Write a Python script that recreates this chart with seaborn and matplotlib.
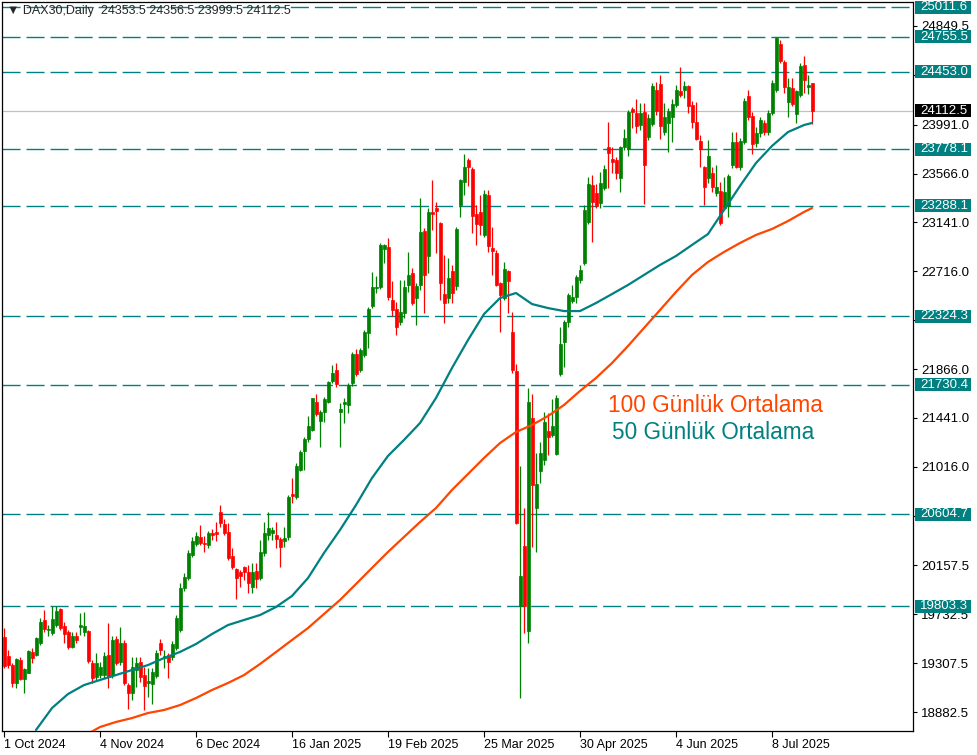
import pandas as pd
import seaborn as sns
from matplotlib import pyplot as plt
from matplotlib import transforms
from matplotlib.patches import Rectangle

# DAX30 daily candles, 1 Oct 2024 onwards (one value per trading day)
opens = [
    19535, 19370, 19292, 19135, 19335, 19170, 19222, 19405, 19379, 19483,
    19683, 19596, 19570, 19640, 19779, 19631, 19579, 19448, 19544, 19622,
    19579, 19587, 19309, 19187, 19204, 19204, 19379, 19204, 19518, 19318,
    19483, 19118, 19048, 19248, 19318, 19204, 19135, 19126, 19196, 19483,
    19352, 19379, 19361, 19439, 19596, 19961, 20048, 20249, 20344, 20405,
    20353, 20336, 20440, 20449, 20623, 20518, 20449, 20240, 20127, 20101,
    20144, 20101, 19970, 20109, 20048, 20266, 20423, 20440, 20423, 20388,
    20370, 20405, 20779, 20753, 20988, 21153, 21258, 21336, 21580, 21414,
    21493, 21580, 21762, 21858, 21493, 21562, 21554, 21745, 21997, 21858,
    21989, 22180, 22415, 22571, 22580, 22911, 22928, 22467, 22389, 22276,
    22354, 22598, 22702, 22484, 22598, 23067, 22850, 23233, 23267, 23137,
    22519, 22484, 22719, 22589, 23294, 23494, 23685, 23607, 23215, 23233,
    23033, 23381, 22919, 22876, 22615, 22484, 22719, 22189, 21849, 19805,
    20327, 19587, 21440, 20657, 20979, 21075, 21327, 21293, 21127, 21823,
    22102, 22276, 22458, 22493, 22641, 22789, 23146, 23468, 23398, 23311,
    23441, 23798, 23694, 23685, 23528, 23798, 23781, 24129, 24094, 23990,
    24103, 23885, 23998, 24294, 24346, 23929, 24007, 24059, 24164, 24285,
    24294, 24329, 24164, 24016, 23850, 23624, 23528, 23572, 23398, 23415,
    23267, 23285, 23642, 23842, 23624, 23842, 24242, 24068, 23833, 23920,
    24007, 23929, 24094, 24294, 24694, 24538, 24190, 24311, 24085, 24251,
    24512, 24320, 24353.5,
]
highs = [
    19613, 19422, 19309, 19352, 19361, 19265, 19422, 19439, 19535, 19700,
    19770, 19640, 19805, 19805, 19787, 19666, 19596, 19579, 19579, 19744,
    19753, 19596, 19335, 19396, 19318, 19405, 19657, 19544, 19544, 19622,
    19509, 19135, 19361, 19361, 19361, 19274, 19265, 19265, 19422, 19518,
    19422, 19396, 19500, 19727, 20005, 20092, 20292, 20405, 20449, 20510,
    20414, 20457, 20475, 20536, 20684, 20562, 20527, 20309, 20135, 20118,
    20153, 20162, 20179, 20179, 20379, 20536, 20623, 20492, 20536, 20405,
    20492, 20771, 20918, 21049, 21162, 21275, 21458, 21614, 21649, 21510,
    21623, 21762, 21902, 21919, 21571, 21614, 21745, 22015, 22041, 22049,
    22206, 22406, 22711, 22676, 22963, 22954, 23006, 22632, 22450, 22641,
    22641, 22885, 22745, 22615, 23354, 23093, 23267, 23511, 23320, 23146,
    22859, 22832, 22772, 23102, 23520, 23737, 23702, 23624, 23294, 23381,
    23424, 23424, 23102, 22902, 22624, 22798, 22728, 22363, 21910, 21023,
    20657, 21701, 21649, 21136, 21232, 21493, 21484, 21606, 21641, 22232,
    22293, 22528, 22598, 22685, 22772, 23294, 23537, 23555, 23476, 23581,
    23642, 24016, 23798, 23711, 23807, 23955, 24120, 24146, 24216, 24181,
    24181, 24085, 24355, 24364, 24425, 24181, 24137, 24216, 24338, 24494,
    24372, 24338, 24198, 24190, 23903, 23633, 23859, 23624, 23642, 23494,
    23537, 23563, 23929, 23929, 23876, 24224, 24294, 24103, 23972, 24059,
    24033, 24120, 24381, 24755, 24729, 24555, 24398, 24398, 24294, 24529,
    24590, 24425, 24356.5,
]
lows = [
    19265, 19265, 19100, 19091, 19161, 19048, 19222, 19309, 19370, 19466,
    19579, 19544, 19552, 19622, 19596, 19483, 19431, 19439, 19483, 19552,
    19544, 19309, 19135, 19161, 19178, 19178, 19091, 19178, 19292, 19292,
    19118, 18909, 18987, 19100, 19144, 18900, 19013, 18952, 19178, 19379,
    19265, 19178, 19335, 19422, 19579, 19935, 20031, 20231, 20327, 20336,
    20275, 20309, 20379, 20370, 20492, 20423, 20205, 20127, 19866, 19970,
    20031, 19918, 19918, 19961, 20031, 20240, 20379, 20379, 20309, 20144,
    20318, 20379, 20701, 20736, 20979, 20988, 21232, 21327, 21458, 21188,
    21406, 21571, 21745, 21710, 21188, 21397, 21484, 21719, 21806, 21841,
    21971, 22049, 22397, 22528, 22563, 22789, 22467, 22328, 22163, 22250,
    22310, 22537, 22424, 22250, 22554, 22354, 22702, 23076, 22876, 22467,
    22267, 22441, 22441, 22554, 23189, 23381, 23459, 23050, 22946, 23033,
    23015, 22885, 22685, 22589, 22189, 22467, 22354, 21832, 20518, 19004,
    19570, 19483, 20318, 20275, 20875, 21032, 21119, 21275, 21119, 21806,
    21884, 22232, 22441, 22441, 22615, 22772, 23128, 22972, 23267, 23267,
    23424, 23441, 23572, 23520, 23407, 23772, 23720, 23963, 23920, 23946,
    23302, 23859, 23981, 24077, 23868, 23903, 23755, 23842, 24146, 24233,
    24224, 24094, 23963, 23859, 23624, 23294, 23485, 23407, 23372, 23120,
    23250, 23189, 23615, 23615, 23598, 23824, 24033, 23737, 23798, 23885,
    23903, 23903, 24077, 24277, 24529, 24268, 24059, 24155, 24007, 24233,
    24268, 24259, 23999.5,
]
closes = [
    19283, 19292, 19135, 19344, 19170, 19257, 19413, 19352, 19526, 19666,
    19605, 19605, 19692, 19761, 19613, 19561, 19448, 19544, 19509, 19640,
    19631, 19326, 19178, 19309, 19274, 19370, 19187, 19509, 19309, 19483,
    19135, 19048, 19274, 19309, 19187, 19109, 19152, 19231, 19396, 19422,
    19370, 19318, 19474, 19700, 19961, 20057, 20266, 20370, 20414, 20353,
    20344, 20440, 20423, 20431, 20527, 20440, 20222, 20144, 20048, 20066,
    20101, 20005, 20101, 20040, 20275, 20440, 20483, 20466, 20388, 20318,
    20396, 20753, 20762, 21023, 21145, 21258, 21371, 21614, 21475, 21493,
    21606, 21754, 21832, 21736, 21519, 21580, 21728, 21997, 21823, 22032,
    22189, 22389, 22580, 22580, 22946, 22946, 22493, 22380, 22232, 22363,
    22580, 22685, 22441, 22589, 23059, 22685, 23233, 23215, 23241, 22615,
    22441, 22658, 22528, 23085, 23511, 23624, 23624, 23198, 23128, 23120,
    23389, 22937, 22893, 22598, 22511, 22737, 22632, 21858, 20527, 20066,
    19805, 21580, 20858, 20866, 21136, 21406, 21275, 21371, 21614, 22084,
    22276, 22511, 22493, 22667, 22728, 23250, 23476, 23320, 23285, 23485,
    23607, 23746, 23668, 23572, 23798, 23876, 24103, 24103, 23981, 24094,
    23642, 24050, 24329, 24111, 23981, 24059, 24111, 24172, 24294, 24251,
    24329, 24155, 24016, 23868, 23781, 23450, 23720, 23450, 23450, 23137,
    23407, 23546, 23842, 23624, 23850, 24198, 24059, 23824, 23920, 24033,
    23929, 24094, 24355, 24746, 24546, 24320, 24320, 24172, 24285, 24503,
    24381, 24338, 24112.5,
]

date_labels = ['1 Oct 2024', '4 Nov 2024', '6 Dec 2024', '16 Jan 2025', '19 Feb 2025',
               '25 Mar 2025', '30 Apr 2025', '4 Jun 2025', '8 Jul 2025']
label_step = 24  # bars between date labels

# moving averages read every 4th bar
ma50_bars = list(range(8, 201, 4)) + [202]
ma50 = [18726, 18917, 19039, 19117, 19161, 19204, 19248, 19291, 19352, 19405,
        19474, 19561, 19639, 19683, 19726, 19796, 19892, 20048, 20266, 20466,
        20683, 20918, 21110, 21249, 21396, 21614, 21875, 22118, 22344, 22483,
        22527, 22431, 22396, 22370, 22370, 22440, 22518, 22597, 22684, 22771,
        22849, 22945, 23040, 23249, 23458, 23658, 23806, 23927, 23988, 24006]
ma100_bars = list(range(20, 201, 4)) + [202]
ma100 = [18674, 18752, 18796, 18830, 18874, 18900, 18943, 19004, 19074, 19135,
         19204, 19300, 19404, 19509, 19613, 19735, 19857, 19996, 20136, 20275,
         20405, 20535, 20657, 20814, 20953, 21092, 21222, 21318, 21379, 21457,
         21553, 21675, 21788, 21918, 22066, 22223, 22379, 22536, 22684, 22797,
         22884, 22962, 23032, 23084, 23153, 23232, 23266]

levels = [25011.6, 24755.5, 24453.0, 23778.1, 23288.1, 22324.3, 21730.4, 20604.7, 19803.3]
price_ticks = [24849.5, 24424.5, 23991.0, 23566.0, 23141.0, 22716.0, 22291.0, 21866.0,
               21441.0, 21016.0, 20591.0, 20157.5, 19732.5, 19307.5, 18882.5]
hidden_ticks = [24424.5, 22291.0, 20591.0]  # covered by the level boxes

TEAL = '#008080'
ORANGE = '#FF4500'
UP = '#008000'
DOWN = '#FF0000'

df = pd.DataFrame({'open': opens, 'high': highs, 'low': lows, 'close': closes})
df['bar'] = range(len(df))
df['color'] = [UP if c >= o else DOWN for o, c in zip(df['open'], df['close'])]
df['body_low'] = df[['open', 'close']].min(axis=1)
df['body'] = (df['close'] - df['open']).abs()
last = df.iloc[-1]

sns.set_theme(style='white')
plt.rcParams['font.family'] = ['Liberation Sans', 'DejaVu Sans']

fig = plt.figure(figsize=(9.77, 7.55), dpi=100)
ax = fig.add_axes([2 / 977, 24 / 755, 911 / 977, 729 / 755])

for lv in levels:
    ax.axhline(lv, color=TEAL, lw=1.0, dashes=(13, 4.3), zorder=1)
ax.axhline(last['close'], color='#C0C0C0', lw=0.9, zorder=1)

ax.vlines(df['bar'], df['low'], df['high'], colors=df['color'], lw=0.9, zorder=2)
ax.bar(df['bar'], df['body'], bottom=df['body_low'], width=0.75,
       color=df['color'], edgecolor=df['color'], linewidth=0.5, zorder=3)

sns.lineplot(x=ma100_bars, y=ma100, color=ORANGE, lw=1.6, ax=ax, zorder=4)
sns.lineplot(x=ma50_bars, y=ma50, color=TEAL, lw=1.6, ax=ax, zorder=4)

ax.set_xlim(-0.5, 227.25)
ax.set_ylim(18717.4, 25058.2)

ax.yaxis.tick_right()
ax.set_yticks(price_ticks)
ax.set_yticklabels(['' if t in hidden_ticks else f'{t:.1f}' for t in price_ticks], fontsize=9.5)
ax.tick_params(axis='y', which='both', right=True, left=False, direction='out',
               length=3, width=0.8, pad=3, colors='black')
ax.set_xticks([i * label_step for i in range(len(date_labels))])
ax.set_xticklabels(date_labels, fontsize=9)
for lab in ax.get_xticklabels():
    lab.set_horizontalalignment('left')
ax.tick_params(axis='x', bottom=True, direction='out', length=4, width=0.8, pad=2, colors='black')
ax.set_xlabel('')
ax.set_ylabel('')
for sp in ax.spines.values():
    sp.set_color('black')
    sp.set_linewidth(0.9)

# price boxes on the right scale
trans = transforms.blended_transform_factory(ax.transAxes, ax.transData)
box_h = 113
box_x, box_w = 1.0022, 0.0615
for lv, fc in [(lv, TEAL) for lv in levels] + [(last['close'], 'black')]:
    ax.add_patch(Rectangle((box_x, lv - box_h / 2), box_w, box_h, transform=trans,
                           fc=fc, ec='none', clip_on=False, zorder=6))
    ax.text(1.0077, lv, f'{lv:.1f}', transform=trans, color='white', fontsize=9.5,
            va='center', ha='left', clip_on=False, zorder=7)

fig.text(7 / 977, 1 - 11 / 755,
         f"▼ DAX30,Daily  {last['open']:.1f} {last['high']:.1f} {last['low']:.1f} {last['close']:.1f}",
         fontsize=9, va='center', ha='left')

fig.text(608 / 977, 1 - 405 / 755, '100 Günlük Ortalama', color=ORANGE, fontsize=16.3, va='center')
fig.text(612 / 977, 1 - 433 / 755, '50 Günlük Ortalama', color=TEAL, fontsize=16.3, va='center')

fig.savefig('out.png', dpi=100)
